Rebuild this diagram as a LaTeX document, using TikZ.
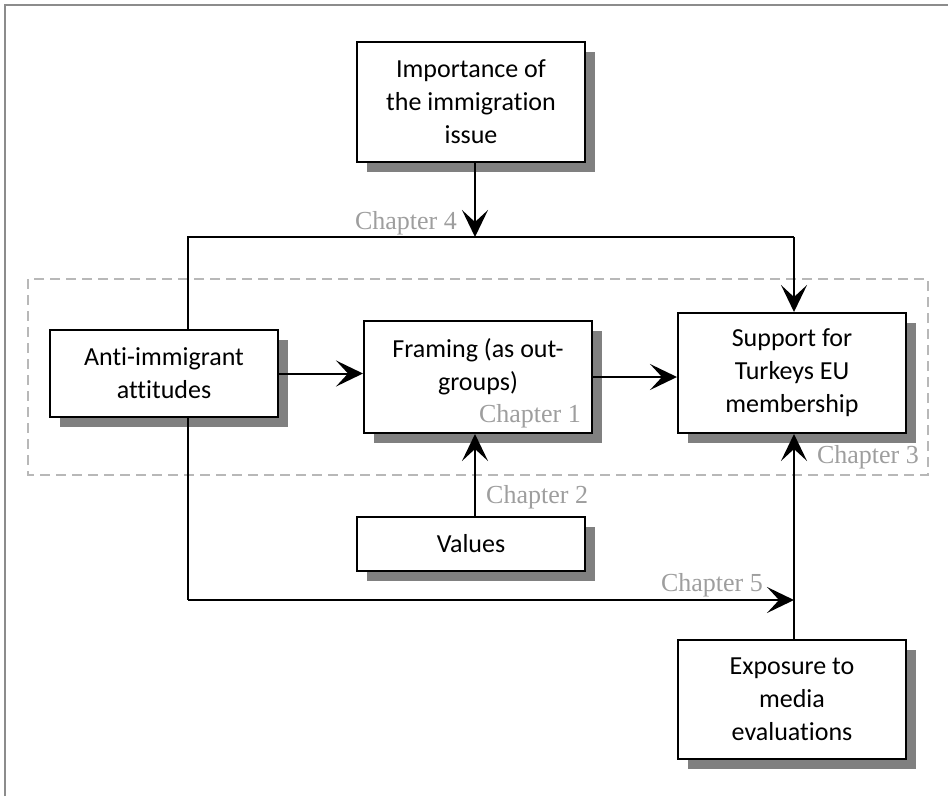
\documentclass[tikz,border=0pt]{standalone}
\usepackage{fontspec}
\setmainfont{Carlito}[Ligatures=CommonOff]
\newfontfamily\chapfont{Liberation Serif}
\usetikzlibrary{arrows.meta,shadows,calc}
\begin{document}
\begin{tikzpicture}[x=1pt,y=-1pt,
  box/.style={draw=black, line width=2pt, fill=white, minimum width=228pt, align=center, inner sep=0pt,
    font=\fontsize{26}{33}\selectfont,
    drop shadow={shadow xshift=10pt, shadow yshift=-10pt, fill=black!50, opacity=1}},
  boxtext/.style={align=center, inner sep=0pt, font=\fontsize{26}{33}\selectfont},
  conn/.style={line width=2pt},
  arr/.style={conn, -{Stealth[length=27pt,width=26pt,inset=12pt]}},
  chap/.style={text=black!38, font=\chapfont\fontsize{26}{30}\selectfont, inner sep=0pt},
]
\useasboundingbox (0,0) rectangle (948,796);
\draw[black!45, line width=2.5pt] (5,796) -- (5,5) -- (948,5);
\draw[black!28, line width=1.5pt, dash pattern=on 10pt off 6pt] (28,279) rectangle (928,475);

\node[box, minimum height=120pt] (imp) at (471,102) {Importance of\\the immigration\\issue};
\node[box, minimum height=87pt] (anti) at (164,373.5) {Anti-immigrant\\attitudes};
\node[box, minimum height=112pt] (frame) at (478,377) {};
\node[boxtext] (frametext) at (478,367) {Framing (as out-\\groups)};
\node[box, minimum height=120pt] (supp) at (792,373) {Support for\\Turkeys EU\\membership};
\node[box, minimum height=54pt] (val) at (471,544) {Values};
\node[box, minimum height=119pt] (expo) at (792,699.5) {Exposure to\\media\\evaluations};

\coordinate (c4L) at (188,237);
\coordinate (c4M) at (475,237);
\coordinate (c4R) at (794,237);
\coordinate (c5L) at (188,600);
\coordinate (c5R) at (794,600);

\draw[conn] (anti.north -| c4L) -- (c4L) -- (c4R);
\draw[arr] (c4R) -- (supp.north -| c4R);
\draw[arr] (imp.south -| c4M) -- (c4M);
\draw[arr] (anti.east) -- (anti.east -| frame.west);
\draw[arr] (frame.east) -- (frame.east -| supp.west);
\draw[arr] (val.north -| c4M) -- (frame.south -| c4M);
\draw[conn] (anti.south -| c5L) -- (c5L);
\draw[arr] (c5L) -- (c5R);
\draw[arr] (expo.north -| c5R) -- (supp.south -| c5R);

\node[chap, anchor=base east] (ch4) at (457,229) {Chapter 4};
\node[chap, anchor=base east] (ch1) at (581,422) {Chapter 1};
\node[chap, anchor=base west] (ch2) at (486,503) {Chapter 2};
\node[chap, anchor=base east] (ch3) at (919,463) {Chapter 3};
\node[chap, anchor=base east] (ch5) at (763,591) {Chapter 5};
\end{tikzpicture}
\end{document}
